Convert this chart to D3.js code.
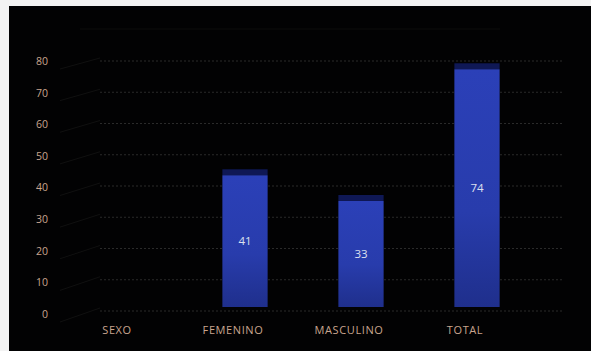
<!DOCTYPE html>
<html><head><meta charset="utf-8">
<script src="https://cdn.jsdelivr.net/npm/d3@7"></script>
<style>html,body{margin:0;padding:0;background:#f3f3f3;overflow:hidden}</style>
</head><body>
<svg id="c" width="591" height="351"></svg>
<script>
const categories = ["SEXO", "FEMENINO", "MASCULINO", "TOTAL"];
const values = [null, 41, 33, 74];
const yTicks = [0, 10, 20, 30, 40, 50, 60, 70, 80];

const svg = d3.select("#c");
svg.append("rect").attr("x", 9).attr("y", 6).attr("width", 582).attr("height", 345).attr("fill", "#020203");

const defs = svg.append("defs");
const g = defs.append("linearGradient").attr("id", "bar").attr("x1", 0).attr("y1", 0).attr("x2", 0).attr("y2", 1);
g.append("stop").attr("offset", "0%").attr("stop-color", "#2b40b8");
g.append("stop").attr("offset", "60%").attr("stop-color", "#283cac");
g.append("stop").attr("offset", "100%").attr("stop-color", "#1f2f8c");

// scales
const yLabel = d3.scaleLinear().domain([0, 80]).range([314, 61]);   // axis labels (front)
const yWall = d3.scaleLinear().domain([0, 80]).range([311, 61]);    // back wall gridlines
const yBar = d3.scaleLinear().domain([0, 80]).range([307, 50]);     // bars (front)
const x = d3.scaleBand().domain(categories).range([71, 535]).paddingInner(0.61).paddingOuter(0.305);

// side-wall diagonals
svg.append("g").selectAll("line").data(yTicks).join("line")
  .attr("x1", 60).attr("y1", d => yLabel(d) + 8)
  .attr("x2", 100).attr("y2", d => yWall(d) - 3)
  .attr("stroke", "#101010").attr("stroke-width", 1);

// back-wall gridlines
svg.append("g").selectAll("line").data(yTicks).join("line")
  .attr("x1", 100).attr("x2", 563)
  .attr("y1", d => yWall(d)).attr("y2", d => yWall(d))
  .attr("stroke", "#2a2a2a").attr("stroke-width", 1).attr("stroke-dasharray", "2,2");

// top faint line
svg.append("line").attr("x1", 80).attr("x2", 500).attr("y1", 29).attr("y2", 29).attr("stroke", "#0c0c0c");

// axis labels
const yAxis = d3.axisLeft(yLabel).tickValues(yTicks).tickSize(0).tickPadding(0);
const ya = svg.append("g").attr("transform", "translate(48,0)").call(yAxis);
ya.select(".domain").remove();
ya.selectAll("text").attr("fill", "#c9a58e").attr("font-family", "Open Sans, Liberation Sans, sans-serif").attr("font-size", 10.5);

// bars
const data = categories.map((c, i) => ({c, v: values[i]})).filter(d => d.v != null);
const bars = svg.append("g");
bars.selectAll("rect.cap").data(data).join("rect").attr("class", "cap")
  .attr("x", d => x(d.c)).attr("width", x.bandwidth())
  .attr("y", d => yBar(d.v) - 6).attr("height", 6)
  .attr("fill", "#0f1855");
bars.selectAll("rect.front").data(data).join("rect").attr("class", "front")
  .attr("x", d => x(d.c)).attr("width", x.bandwidth())
  .attr("y", d => yBar(d.v)).attr("height", d => yBar(0) - yBar(d.v))
  .attr("fill", "url(#bar)");
bars.selectAll("text").data(data).join("text")
  .attr("x", d => x(d.c) + x.bandwidth() / 2)
  .attr("y", d => (yBar(d.v) + yBar(0)) / 2)
  .attr("dy", "0.35em").attr("text-anchor", "middle")
  .attr("fill", "#dde0ee").attr("font-family", "Open Sans, Liberation Sans, sans-serif").attr("font-size", 11.5)
  .text(d => d.v);

// category labels
const xAxis = d3.axisBottom(x).tickSize(0).tickPadding(0);
const xa = svg.append("g").attr("transform", "translate(-12,326)").call(xAxis);
xa.select(".domain").remove();
xa.selectAll("text").attr("fill", "#c9a58e").attr("font-family", "Open Sans, Liberation Sans, sans-serif")
  .attr("font-size", 11).attr("letter-spacing", "0.6px");
</script>
</body></html>
